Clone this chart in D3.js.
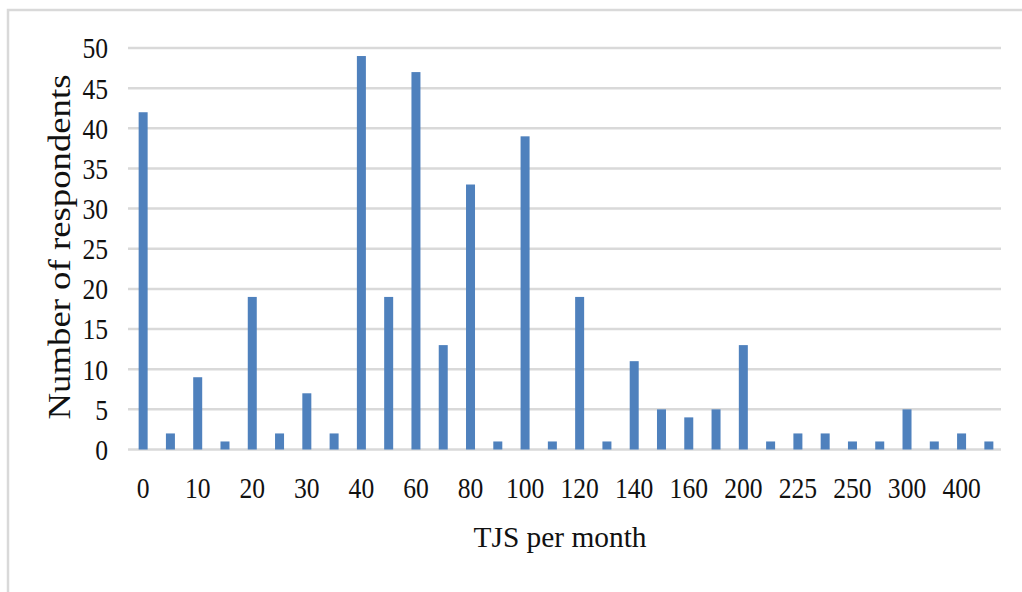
<!DOCTYPE html>
<html>
<head>
<meta charset="utf-8">
<script src="https://cdn.jsdelivr.net/npm/d3@7"></script>
<style>
  html, body { margin: 0; padding: 0; background: #fff; }
  svg { display: block; }
  text { font-family: "Liberation Serif", "DejaVu Serif", serif; fill: #111; }
</style>
</head>
<body>
<svg id="chart" width="1022" height="592"></svg>
<script>
// Monthly amount (TJS) categories and respondent counts
const categories = ["0","5","10","15","20","25","30","35","40","50","60","70","80","90","100","110",
                    "120","130","140","150","160","180","200","210","225","240","250","275","300","350","400","500"];
const respondents = [42, 2, 9, 1, 19, 2, 7, 2, 49, 19, 47, 13, 33, 1, 39, 1,
                     19, 1, 11, 5, 4, 5, 13, 1, 2, 2, 1, 1, 5, 1, 2, 1];
// Only every other category carries a visible label
const xTickLabels = ["0","10","20","30","40","60","80","100","120","140","160","200","225","250","300","400"];
const yTicks = [0, 5, 10, 15, 20, 25, 30, 35, 40, 45, 50];

const svg = d3.select("#chart");

// Outer frame
svg.append("rect")
  .attr("x", 8).attr("y", 10)
  .attr("width", 1040).attr("height", 620)
  .attr("fill", "#fff")
  .attr("stroke", "#d9d9d9")
  .attr("stroke-width", 2.5);

const x = d3.scaleBand()
  .domain(categories)
  .range([129.5, 1002.5])
  .paddingInner(0.67)
  .paddingOuter(0.335);

const y = d3.scaleLinear()
  .domain([0, 50])
  .range([449.5, 48]);

// Horizontal gridlines
svg.append("g")
  .selectAll("line")
  .data(yTicks)
  .join("line")
  .attr("x1", 128).attr("x2", 1001)
  .attr("y1", d => y(d)).attr("y2", d => y(d))
  .attr("stroke", "#d9d9d9")
  .attr("stroke-width", 2.5);

// Bars
svg.append("g")
  .selectAll("rect")
  .data(categories)
  .join("rect")
  .attr("x", d => x(d))
  .attr("width", x.bandwidth())
  .attr("y", (d, i) => y(respondents[i]))
  .attr("height", (d, i) => y(0) - y(respondents[i]))
  .attr("fill", "#4f81bd");

// Narrow, tall numerals for the tick labels
const styleTickText = sel => sel
  .style("font-family", "'Liberation Serif', serif")
  .style("font-size", "29px")
  .attr("fill", "#111")
  .attr("textLength", function () { return this.textContent.length * 12.8; })
  .attr("lengthAdjust", "spacingAndGlyphs");

// Y axis labels
const yAxis = d3.axisLeft(y).tickValues(yTicks).tickSize(0).tickPadding(0);
const gy = svg.append("g").attr("transform", "translate(108,0)").call(yAxis);
gy.select(".domain").remove();
gy.selectAll("text").call(styleTickText).attr("dy", "0.34em");

// X axis labels (every other category)
const xAxis = d3.axisBottom(x)
  .tickValues(categories.filter(c => xTickLabels.includes(c)))
  .tickSize(0).tickPadding(0);
const gx = svg.append("g").attr("transform", "translate(0,477)").call(xAxis);
gx.select(".domain").remove();
gx.selectAll("text").call(styleTickText).attr("dy", "0.72em");

// Axis titles
svg.append("text")
  .attr("transform", "translate(70,247) rotate(-90)")
  .attr("text-anchor", "middle")
  .attr("textLength", 345)
  .attr("lengthAdjust", "spacingAndGlyphs")
  .style("font-size", "31px")
  .text("Number of respondents");

svg.append("text")
  .attr("x", 560).attr("y", 547)
  .attr("text-anchor", "middle")
  .attr("textLength", 173)
  .attr("lengthAdjust", "spacingAndGlyphs")
  .style("font-size", "30px")
  .text("TJS per month");
</script>
</body>
</html>
